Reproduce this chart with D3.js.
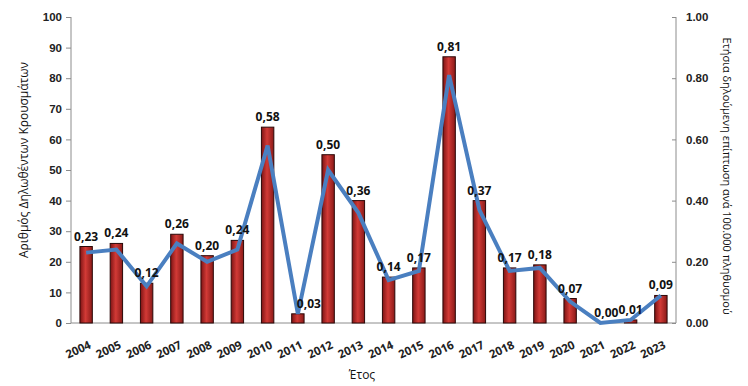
<!DOCTYPE html>
<html>
<head>
<meta charset="utf-8">
<script src="https://d3js.org/d3.v7.min.js"></script>
<style>
  * { margin:0; padding:0; }
  body { background:#fff; width:748px; height:386px; overflow:hidden; }
  svg { display:block; font-family:"Open Sans", "DejaVu Sans", sans-serif; }
  .tick text { font-weight:700; font-size:11.5px; fill:#222; }
  .axis path, .axis line { stroke:#8c8c8c; }
</style>
</head>
<body>
<svg id="chart" width="748" height="386"></svg>
<script>
// ── Data ──────────────────────────────────────────────────────────────────────
const years  = ["2004","2005","2006","2007","2008","2009","2010","2011","2012","2013",
                "2014","2015","2016","2017","2018","2019","2020","2021","2022","2023"];
const cases  = [25, 26, 13, 29, 22, 27, 64, 3, 55, 40, 15, 18, 87, 40, 18, 19, 8, 0, 1, 9];
const rates  = [0.23, 0.24, 0.12, 0.26, 0.20, 0.24, 0.58, 0.03, 0.50, 0.36,
                0.14, 0.17, 0.81, 0.37, 0.17, 0.18, 0.07, 0.00, 0.01, 0.09];
const leftTicks  = [0, 10, 20, 30, 40, 50, 60, 70, 80, 90, 100];
const rightTicks = [0, 0.2, 0.4, 0.6, 0.8, 1.0];
const labelShift = { "2011": 11, "2021": 6, "2022": 0 };   // labels nudged sideways

// ── Layout ────────────────────────────────────────────────────────────────────
const plot = { left: 71, right: 676, top: 17, bottom: 323 };
const svg  = d3.select("#chart");

const x = d3.scaleBand().domain(years)
  .range([plot.left, plot.right]).paddingInner(0.59).paddingOuter(0.295);
const yL = d3.scaleLinear().domain([0, 100]).range([plot.bottom, plot.top]);
const yR = d3.scaleLinear().domain([0, 1]).range([plot.bottom, plot.top]);
const cx = d => x(d) + x.bandwidth() / 2;

// bar gradient (dark edges, brighter middle)
const grad = svg.append("defs").append("linearGradient")
  .attr("id", "barGrad").attr("x1", "0").attr("x2", "1");
grad.append("stop").attr("offset", "0%").attr("stop-color", "#7d1414");
grad.append("stop").attr("offset", "45%").attr("stop-color", "#d23a36");
grad.append("stop").attr("offset", "100%").attr("stop-color", "#8a1a18");

// ── Axes ──────────────────────────────────────────────────────────────────────
svg.append("g").attr("class", "axis")
  .attr("transform", "translate(" + plot.left + ",0)")
  .call(d3.axisLeft(yL).tickValues(leftTicks).tickSize(5).tickPadding(4))
  .call(g => g.select(".domain").attr("d", "M0," + plot.top + "V" + plot.bottom));

svg.append("g").attr("class", "axis")
  .attr("transform", "translate(" + plot.right + ",0)")
  .call(d3.axisRight(yR).tickValues(rightTicks).tickFormat(d3.format(".2f")).tickSize(0).tickPadding(10))
  .call(g => g.select(".domain").attr("d", "M0," + plot.top + "V" + plot.bottom))
  .call(g => g.selectAll(".tick line").attr("x1", -4).attr("x2", 0));

svg.append("line")
  .attr("x1", plot.left).attr("x2", plot.right)
  .attr("y1", plot.bottom).attr("y2", plot.bottom)
  .attr("stroke", "#8c8c8c");

// x labels, rotated
svg.append("g").selectAll("text")
  .data(years).join("text")
  .attr("transform", d => "translate(" + (cx(d) + 4) + "," + (plot.bottom + 21) + ") rotate(-25)")
  .attr("text-anchor", "end")
  .attr("dy", "0.35em")
  .attr("font-size", "11.5px")
  .attr("font-weight", 700)
  .attr("fill", "#222")
  .text(d => d);

// ── Bars ──────────────────────────────────────────────────────────────────────
svg.append("g").selectAll("rect")
  .data(years).join("rect")
  .attr("x", d => x(d))
  .attr("width", x.bandwidth())
  .attr("y", (d, i) => yL(cases[i]))
  .attr("height", (d, i) => plot.bottom - yL(cases[i]))
  .attr("fill", "url(#barGrad)")
  .attr("stroke", "#2b0808")
  .attr("stroke-width", 1);

// ── Line ──────────────────────────────────────────────────────────────────────
const line = d3.line()
  .x(d => cx(d[0]))
  .y(d => yR(d[1]));

svg.append("path")
  .datum(years.map((d, i) => [d, rates[i]]))
  .attr("d", line)
  .attr("fill", "none")
  .attr("stroke", "#4a7fc0")
  .attr("stroke-width", 4)
  .attr("stroke-linejoin", "miter");

// ── Data labels ───────────────────────────────────────────────────────────────
svg.append("g").selectAll("text")
  .data(years).join("text")
  .attr("x", d => cx(d) + (labelShift[d] || 0))
  .attr("y", (d, i) => yL(cases[i]) - 6)
  .attr("text-anchor", "middle")
  .attr("font-size", "12px")
  .attr("font-weight", 700)
  .attr("fill", "#111")
  .text((d, i) => d3.format(".2f")(rates[i]).replace(".", ","));

// ── Axis titles ───────────────────────────────────────────────────────────────
svg.append("text")
  .attr("transform", "translate(28,160) rotate(-90)")
  .attr("text-anchor", "middle")
  .attr("font-size", "12px")
  .attr("fill", "#111")
  .text("Αριθμός Δηλωθέντων Κρουσμάτων");

svg.append("text")
  .attr("transform", "translate(723,176) rotate(90)")
  .attr("text-anchor", "middle")
  .attr("font-size", "11px")
  .attr("fill", "#111")
  .text("Ετήσια δηλούμενη επίπτωση ανά 100.000 πληθυσμού");

svg.append("text")
  .attr("x", 362).attr("y", 379)
  .attr("text-anchor", "middle")
  .attr("font-size", "12px")
  .attr("fill", "#111")
  .text("Έτος");
</script>
</body>
</html>
